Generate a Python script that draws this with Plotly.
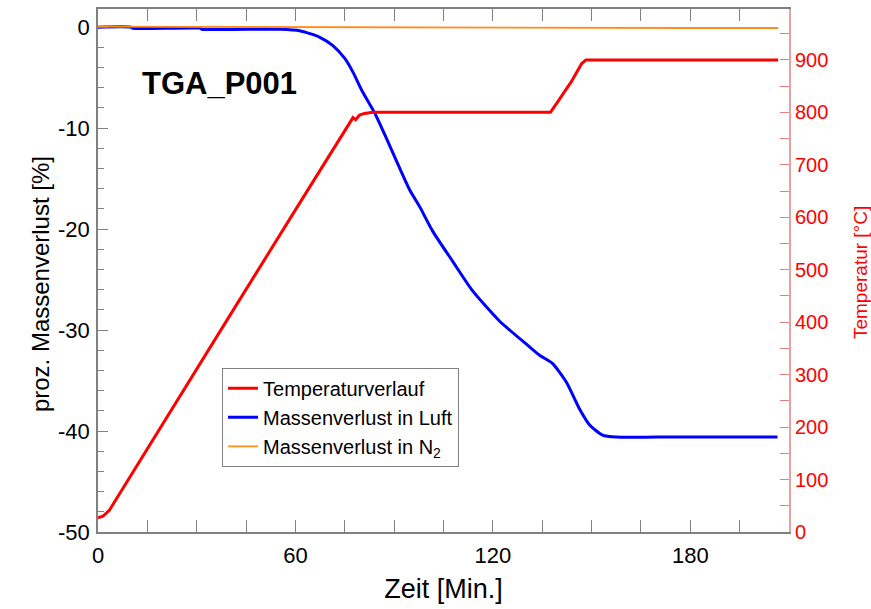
import plotly.graph_objects as go

# Temperature profile (right axis, °C)
temp_t = [0, 1.5, 3.5, 20, 40, 60, 77.5, 78.3, 79.5, 81, 83.5, 100, 120, 137.5, 140, 143.8, 147, 148.3, 170, 190, 206.7]
temp_v = [27, 30, 42, 210, 412, 614, 790, 786, 795, 798, 800, 800, 800, 800, 823, 858, 893, 900, 900, 900, 900]

# Mass loss in air (left axis, %)
air_t = [0, 10, 10.6, 31, 31.5, 55.3, 61.3, 67.4, 71.3, 75, 77.4, 80.4, 84.1, 88.6, 94.7, 97.8, 101.7, 107.8,
         113.8, 122, 130.2, 134.2, 138.1, 142.4, 146.3, 149.4, 153.3, 157.6, 170, 190, 206.5]
air_v = [0, 0, -0.1, -0.1, -0.2, -0.2, -0.35, -1.0, -1.8, -3.1, -4.4, -6.4, -8.5, -11.7, -16.1, -17.8, -20.2, -23.2,
         -26.1, -29.1, -31.4, -32.5, -33.3, -35.2, -37.8, -39.4, -40.4, -40.6, -40.6, -40.6, -40.6]

# Mass loss in N2 (left axis, %)
n2_t = [0, 30, 60, 100, 154, 155, 180, 206.7]
n2_v = [0.05, 0.02, 0.0, -0.02, -0.04, -0.08, -0.08, -0.08]

x_ticks = [0, 60, 120, 180]
x_labels = ["0", "60", "120", "180"]
y_ticks = [0, -10, -20, -30, -40, -50]
y_labels = ["0", "-10", "-20", "-30", "-40", "-50"]
y2_ticks = list(range(0, 1000, 100))

font_family = "Liberation Sans, Arial, sans-serif"

fig = go.Figure()
fig.add_trace(go.Scatter(x=temp_t, y=temp_v, mode="lines", name="Temperaturverlauf",
                         line=dict(color="#ff0000", width=3), yaxis="y2"))
fig.add_trace(go.Scatter(x=air_t, y=air_v, mode="lines", name="Massenverlust in Luft",
                         line=dict(color="#0000ff", width=3, shape="spline", smoothing=0.6)))
fig.add_trace(go.Scatter(x=n2_t, y=n2_v, mode="lines", name="Massenverlust in N<sub>2</sub>",
                         line=dict(color="#ff8c1a", width=1.8)))

fig.update_layout(
    width=871, height=609,
    margin=dict(l=98, r=82, t=7, b=77),
    plot_bgcolor="white", paper_bgcolor="white",
    font=dict(family=font_family, color="black"),
    showlegend=True,
    legend=dict(x=0.1795, y=0.314, xanchor="left", yanchor="top",
                bordercolor="#808080", borderwidth=1, bgcolor="white",
                font=dict(size=20, family=font_family), tracegroupgap=0,
                traceorder="normal"),
    xaxis=dict(range=[0, 210], tickvals=x_ticks, ticktext=x_labels, ticks="inside", ticklen=12,
               tickcolor="#808080", tickfont=dict(size=22), ticklabelstandoff=3,
               showline=True, linecolor="#808080", linewidth=1.5,
               mirror="allticks", showgrid=False, zeroline=False,
               minor=dict(dtick=15, tick0=0, ticks="inside", ticklen=6, tickcolor="#808080"),
               title=dict(text="Zeit [Min.]", font=dict(size=27), standoff=12)),
    yaxis=dict(range=[-50, 1.8], tickvals=y_ticks, ticktext=y_labels, ticks="inside", ticklen=10,
               tickcolor="#808080", tickfont=dict(size=22), ticklabelstandoff=2,
               showline=True, linecolor="#808080", linewidth=1.5,
               showgrid=False, zeroline=False,
               minor=dict(dtick=2, tick0=0, ticks="inside", ticklen=6, tickcolor="#808080")),
    yaxis2=dict(range=[0, 997], tickvals=y2_ticks, overlaying="y", side="right",
                ticks="inside", ticklen=9, tickcolor="#e08080",
                tickfont=dict(size=20, color="#ff0000"), showline=True, linecolor="#e8a0a0", linewidth=2,
                showgrid=False, zeroline=False,
                minor=dict(dtick=50, tick0=0, ticks="inside", ticklen=9, tickcolor="#e08080")),
    annotations=[
        dict(text="<b>TGA_P001</b>", x=0.1765, y=0.857, xref="paper", yref="paper",
             showarrow=False, font=dict(size=31, color="black", family=font_family),
             xanchor="center", yanchor="middle"),
        dict(text="proz. Massenverlust [%]", x=-0.0839, y=0.474, xref="paper", yref="paper",
             showarrow=False, textangle=-90, font=dict(size=24, color="black", family=font_family),
             xanchor="center", yanchor="middle"),
        dict(text="Temperatur [°C]", x=1.1027, y=0.497, xref="paper", yref="paper",
             showarrow=False, textangle=-90, font=dict(size=19, color="#ff0000", family=font_family),
             xanchor="center", yanchor="middle"),
    ],
)

fig.write_html("out.html")
